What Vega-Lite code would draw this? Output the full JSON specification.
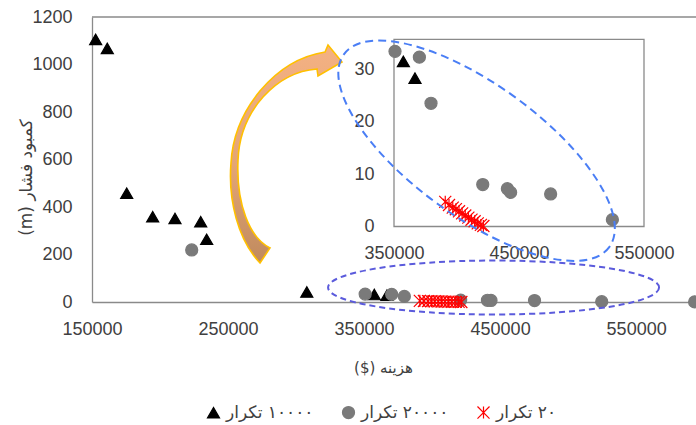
{
  "$schema": "https://vega.github.io/schema/vega-lite/v6.json",
  "width": 604,
  "height": 285,
  "autosize": {"type": "none"},
  "padding": {"left": 92, "top": 17, "right": 0, "bottom": 123},
  "config": {"view": {"stroke": null}, "font": "Liberation Sans"},
  "datasets": {
    "points": [
      {"series": "۱۰۰۰۰ تکرار", "cost": 152700, "head": 1106},
      {"series": "۱۰۰۰۰ تکرار", "cost": 161250, "head": 1068},
      {"series": "۱۰۰۰۰ تکرار", "cost": 175500, "head": 458},
      {"series": "۱۰۰۰۰ تکرار", "cost": 194600, "head": 359},
      {"series": "۱۰۰۰۰ تکرار", "cost": 211000, "head": 352},
      {"series": "۱۰۰۰۰ تکرار", "cost": 229900, "head": 338},
      {"series": "۱۰۰۰۰ تکرار", "cost": 234300, "head": 264},
      {"series": "۱۰۰۰۰ تکرار", "cost": 307900, "head": 42},
      {"series": "۱۰۰۰۰ تکرار", "cost": 357500, "head": 31.5},
      {"series": "۱۰۰۰۰ تکرار", "cost": 366800, "head": 28.3},
      {"series": "۲۰۰۰۰ تکرار", "cost": 223300, "head": 219},
      {"series": "۲۰۰۰۰ تکرار", "cost": 350800, "head": 33.4},
      {"series": "۲۰۰۰۰ تکرار", "cost": 370300, "head": 32.3},
      {"series": "۲۰۰۰۰ تکرار", "cost": 379600, "head": 23.5},
      {"series": "۲۰۰۰۰ تکرار", "cost": 421000, "head": 8.0},
      {"series": "۲۰۰۰۰ تکرار", "cost": 440700, "head": 7.2},
      {"series": "۲۰۰۰۰ تکرار", "cost": 443300, "head": 6.5},
      {"series": "۲۰۰۰۰ تکرار", "cost": 475300, "head": 6.2},
      {"series": "۲۰۰۰۰ تکرار", "cost": 524700, "head": 1.3},
      {"series": "۲۰۰۰۰ تکرار", "cost": 593000, "head": 0.5},
      {"series": "۲۰ تکرار", "cost": 391000, "head": 4.7},
      {"series": "۲۰ تکرار", "cost": 394000, "head": 4.1},
      {"series": "۲۰ تکرار", "cost": 397000, "head": 3.6},
      {"series": "۲۰ تکرار", "cost": 399500, "head": 3.3},
      {"series": "۲۰ تکرار", "cost": 402000, "head": 2.9},
      {"series": "۲۰ تکرار", "cost": 404500, "head": 2.5},
      {"series": "۲۰ تکرار", "cost": 407000, "head": 2.1},
      {"series": "۲۰ تکرار", "cost": 409500, "head": 1.7},
      {"series": "۲۰ تکرار", "cost": 412000, "head": 1.3},
      {"series": "۲۰ تکرار", "cost": 414500, "head": 1.0},
      {"series": "۲۰ تکرار", "cost": 417000, "head": 0.6},
      {"series": "۲۰ تکرار", "cost": 419500, "head": 0.3},
      {"series": "۲۰ تکرار", "cost": 421500, "head": 0.1}
    ],
    "frame": [{"x0": 350000, "x1": 550000, "y0": 0, "y1": 35.7}],
    "bigEllipse": [{"cx": 432700, "cy": 637}],
    "smallEllipse": [{"cx": 445200, "cy": 61}],
    "arrow": [{"cx": 292600, "cy": 619}],
    "border": [{"top": 1200}]
  },
  "layer": [
    {
      "data": {"name": "points"},
      "mark": {"type": "point", "filled": true, "size": 145, "strokeWidth": 1.2, "opacity": 1},
      "encoding": {
        "x": {
          "field": "cost", "type": "quantitative",
          "scale": {"domain": [150000, 594000], "nice": false, "zero": false},
          "axis": {
            "values": [150000, 250000, 350000, 450000, 550000], "format": "d",
            "grid": false, "ticks": false, "labelPadding": 18, "labelFontSize": 18,
            "labelColor": "#404040", "labelFlush": false, "labelOverlap": false,
            "domainColor": "#8a8a8a", "domainWidth": 1.3,
            "title": "‫هزینه ($)‬", "titleFont": "DejaVu Sans", "titleFontSize": 15,
            "titleFontWeight": "normal", "titleColor": "#404040",
            "titleX": 291, "titleY": 65, "titleBaseline": "middle", "titleAlign": "center"
          }
        },
        "y": {
          "field": "head", "type": "quantitative",
          "scale": {"domain": [0, 1200], "nice": false, "zero": false},
          "axis": {
            "values": [0, 200, 400, 600, 800, 1000, 1200], "format": "d",
            "grid": false, "ticks": false, "labelPadding": 20, "labelFontSize": 18,
            "labelColor": "#404040", "labelFlush": false, "labelOverlap": false,
            "domainColor": "#8a8a8a", "domainWidth": 1.3,
            "title": "‫کمبود فشار (m)‬", "titleFont": "DejaVu Sans", "titleFontSize": 17,
            "titleFontWeight": "normal", "titleColor": "#404040",
            "titleX": -66, "titleY": 160, "titleAngle": -90, "titleBaseline": "middle", "titleAlign": "center"
          }
        },
        "color": {
          "field": "series", "type": "nominal",
          "scale": {"domain": ["۱۰۰۰۰ تکرار", "۲۰۰۰۰ تکرار", "۲۰ تکرار"], "range": ["#000000", "#7a7a7a", "#ff0000"]},
          "legend": {
            "orient": "none", "legendX": 113, "legendY": 387, "direction": "horizontal",
            "title": null, "padding": 0, "labelFont": "DejaVu Sans", "labelFontSize": 17,
            "labelColor": "#404040", "symbolSize": 145, "symbolStrokeWidth": 1.2,
            "columnPadding": 26, "labelOffset": 4,
            "labelExpr": "'‫' + datum.label + '‬'"
          }
        },
        "stroke": {
          "field": "series", "type": "nominal",
          "scale": {"domain": ["۱۰۰۰۰ تکرار", "۲۰۰۰۰ تکرار", "۲۰ تکرار"], "range": ["#000000", "#7a7a7a", "#ff0000"]}
        },
        "shape": {
          "field": "series", "type": "nominal",
          "scale": {"domain": ["۱۰۰۰۰ تکرار", "۲۰۰۰۰ تکرار", "۲۰ تکرار"], "range": ["triangle-up", "circle", "M-1,-1L1,1M-1,1L1,-1M0,-1L0,1"]}
        }
      }
    },
    {
      "layer": [
        {
          "data": {"name": "frame"},
          "mark": {"type": "rect", "fill": "#ffffff", "stroke": "#8a8a8a", "strokeWidth": 1.3},
          "encoding": {
            "x": {
              "field": "x0", "type": "quantitative",
              "scale": {"domain": [350000, 550000], "range": [302, 552], "nice": false, "zero": false},
              "axis": {
                "orient": "bottom", "offset": -75.5, "values": [350000, 450000, 550000], "format": "d",
                "grid": false, "ticks": false, "domain": false, "labelPadding": 18, "labelFontSize": 18,
                "labelColor": "#404040", "labelFlush": false, "labelOverlap": false, "title": null
              }
            },
            "x2": {"field": "x1"},
            "y": {
              "field": "y0", "type": "quantitative",
              "scale": {"domain": [0, 35.7], "range": [209.5, 22.3], "nice": false, "zero": false},
              "axis": {
                "orient": "left", "offset": -302, "values": [0, 10, 20, 30], "format": "d",
                "grid": false, "ticks": false, "domain": false, "labelPadding": 20, "labelFontSize": 18,
                "labelColor": "#404040", "labelFlush": false, "labelOverlap": false, "title": null
              }
            },
            "y2": {"field": "y1"}
          }
        },
        {
          "data": {"name": "points"},
          "transform": [{"filter": "datum.cost >= 350000 && datum.cost <= 550000 && datum.head <= 35.7"}],
          "mark": {"type": "point", "filled": true, "size": 145, "strokeWidth": 1.2, "opacity": 1},
          "encoding": {
            "x": {"field": "cost", "type": "quantitative", "axis": {"title": null}},
            "y": {"field": "head", "type": "quantitative", "axis": {"title": null}},
            "color": {"field": "series", "type": "nominal", "legend": null},
            "stroke": {"field": "series", "type": "nominal", "legend": null},
            "shape": {"field": "series", "type": "nominal", "legend": null}
          }
        }
      ]
    },
    {
      "layer": [
        {
          "data": {"name": "border"},
          "mark": {"type": "rule", "color": "#8a8a8a", "strokeWidth": 1.3},
          "encoding": {
            "y": {"field": "top", "type": "quantitative", "scale": {"domain": [0, 1200], "nice": false, "zero": false}, "axis": null}
          }
        },
        {
          "data": {"name": "arrow"},
          "mark": {
            "type": "point", "filled": true, "size": 48400,
            "shape": "M-0.236,0.982C-0.436,0.773,-0.527,0.409,-0.5,0.073C-0.473,-0.409,-0.1,-0.864,0.355,-0.936L0.382,-1L0.509,-0.845L0.291,-0.718L0.282,-0.782C-0.082,-0.755,-0.418,-0.409,-0.436,0.045C-0.455,0.455,-0.327,0.755,-0.145,0.845Z",
            "fill": {"gradient": "linear", "x1": 0, "y1": 0, "x2": 0, "y2": 1, "stops": [{"offset": 0, "color": "#f4b183"}, {"offset": 0.55, "color": "#e3a576"}, {"offset": 1, "color": "#c08a5e"}]},
            "stroke": "#ffc000", "strokeWidth": 1.6, "opacity": 1
          },
          "encoding": {
            "x": {"field": "cx", "type": "quantitative", "scale": {"domain": [150000, 594000], "nice": false, "zero": false}, "axis": null},
            "y": {"field": "cy", "type": "quantitative", "axis": null}
          }
        },
        {
          "data": {"name": "bigEllipse"},
          "mark": {
            "type": "point", "filled": false, "size": 107584, "angle": 36,
            "shape": "M1,0C1,0.222,0.5523,0.402,0,0.402C-0.5523,0.402,-1,0.222,-1,0C-1,-0.222,-0.5523,-0.402,0,-0.402C0.5523,-0.402,1,-0.222,1,0Z",
            "stroke": "#4a7ef5", "strokeWidth": 2, "strokeDash": [8, 5], "opacity": 1
          },
          "encoding": {
            "x": {"field": "cx", "type": "quantitative", "axis": null},
            "y": {"field": "cy", "type": "quantitative", "axis": null}
          }
        },
        {
          "data": {"name": "smallEllipse"},
          "mark": {
            "type": "point", "filled": false, "size": 109561,
            "shape": "M1,0C1,0.09,0.5523,0.163,0,0.163C-0.5523,0.163,-1,0.09,-1,0C-1,-0.09,-0.5523,-0.163,0,-0.163C0.5523,-0.163,1,-0.09,1,0Z",
            "stroke": "#5b5bdc", "strokeWidth": 2, "strokeDash": [6, 4], "opacity": 1
          },
          "encoding": {
            "x": {"field": "cx", "type": "quantitative", "axis": null},
            "y": {"field": "cy", "type": "quantitative", "axis": null}
          }
        }
      ]
    }
  ],
  "resolve": {
    "scale": {"x": "independent", "y": "independent"},
    "axis": {"x": "independent", "y": "independent"}
  }
}
